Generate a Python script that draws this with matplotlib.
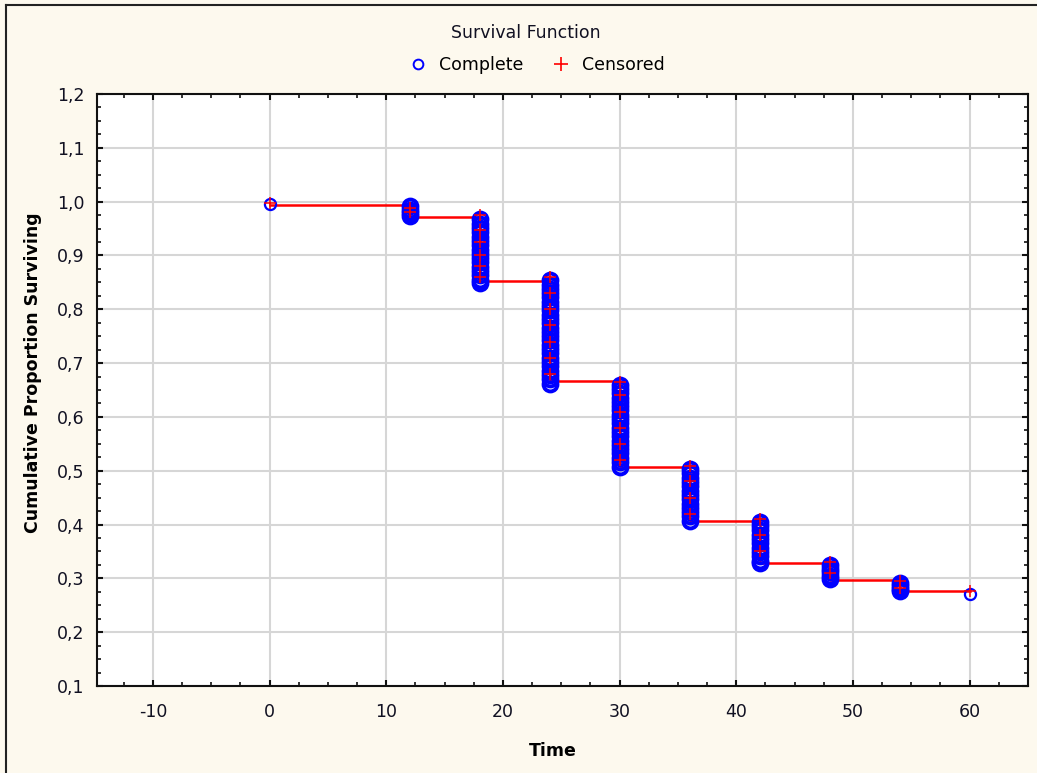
import matplotlib

matplotlib.use("Agg")
import matplotlib.pyplot as plt
from matplotlib.lines import Line2D
from matplotlib.ticker import FuncFormatter, MultipleLocator

# Kaplan-Meier step levels (proportion surviving after each time point)
step_times = [0, 12, 18, 24, 30, 36, 42, 48, 54, 60]
step_levels = [0.994, 0.972, 0.852, 0.666, 0.507, 0.407, 0.329, 0.297, 0.276, 0.276]

# per-subject cumulative proportions, complete (event) observations
complete_y = [
    [0.996],
    [0.991, 0.985, 0.979, 0.974],
    [0.967, 0.959, 0.951, 0.943, 0.935, 0.927, 0.919, 0.911, 0.903, 0.895, 0.887,
     0.879, 0.871, 0.863, 0.855, 0.849],
    [0.854, 0.846, 0.838, 0.830, 0.822, 0.814, 0.806, 0.798, 0.790, 0.782, 0.774,
     0.766, 0.758, 0.750, 0.742, 0.734, 0.726, 0.718, 0.710, 0.702, 0.694, 0.686,
     0.678, 0.670, 0.662],
    [0.660, 0.652, 0.644, 0.636, 0.628, 0.620, 0.612, 0.604, 0.596, 0.588, 0.580,
     0.572, 0.564, 0.556, 0.548, 0.540, 0.532, 0.524, 0.516, 0.507],
    [0.503, 0.495, 0.487, 0.479, 0.471, 0.463, 0.455, 0.447, 0.439, 0.431, 0.423,
     0.415, 0.407],
    [0.405, 0.397, 0.389, 0.381, 0.373, 0.365, 0.357, 0.349, 0.341, 0.333, 0.328],
    [0.325, 0.318, 0.311, 0.304, 0.298],
    [0.292, 0.286, 0.281, 0.276],
    [0.270],
]

# censored observations
censored_y = [
    [0.997],
    [0.988, 0.980],
    [0.975, 0.948, 0.925, 0.900, 0.880, 0.860],
    [0.860, 0.830, 0.800, 0.770, 0.740, 0.710, 0.680],
    [0.665, 0.640, 0.610, 0.580, 0.550, 0.520],
    [0.508, 0.480, 0.450, 0.420],
    [0.410, 0.380, 0.350],
    [0.330, 0.310],
    [0.295, 0.282],
    [0.277],
]

BLUE = "#0000ff"
RED = "#ff0000"
BG = "#fdf9ee"

plt.rcParams["font.family"] = ["DejaVu Sans"]

fig = plt.figure(figsize=(10.37, 7.73), dpi=100, facecolor=BG)
ax = fig.add_axes([0.0935, 0.1126, 0.8978, 0.7658])
ax.set_facecolor("white")

ax.step(step_times, step_levels, where="post", color=RED, linewidth=1.8, zorder=3)

for t, ys in zip(step_times, complete_y):
    dense = len(ys) > 3
    ax.plot([t] * len(ys), ys, linestyle="none", marker="o",
            markersize=10 if dense else 8, markerfacecolor="none",
            markeredgecolor=BLUE, markeredgewidth=2.8 if dense else 1.6, zorder=4)

for t, ys in zip(step_times, censored_y):
    ax.plot([t] * len(ys), ys, linestyle="none", marker="+", markersize=9,
            color=RED, markeredgewidth=1.1, zorder=5)

ax.set_xlim(-14.8, 65)
ax.set_ylim(0.1, 1.2)
ax.xaxis.set_major_locator(MultipleLocator(10))
ax.xaxis.set_minor_locator(MultipleLocator(2.5))
ax.yaxis.set_major_locator(MultipleLocator(0.1))
ax.yaxis.set_minor_locator(MultipleLocator(0.025))
ax.yaxis.set_major_formatter(FuncFormatter(lambda v, _: f"{v:.1f}".replace(".", ",")))
ax.xaxis.set_major_formatter(FuncFormatter(lambda v, _: f"{v:.0f}"))

ax.grid(True, which="major", color="#d6d6d6", linewidth=1.5, zorder=0)
ax.set_axisbelow(True)
for side in ax.spines.values():
    side.set_linewidth(1.5)
    side.set_color("#111111")

ax.tick_params(which="both", direction="in", top=True, right=True, colors="#111111")
ax.tick_params(which="major", length=4, width=1.5, labelsize=12.5, labelcolor="#111122")
ax.tick_params(which="minor", length=3, width=1.2)
ax.tick_params(axis="x", which="major", pad=12)
ax.tick_params(axis="y", which="major", pad=9)

ax.set_xlabel("Time", fontsize=12.5, fontweight="bold")
ax.set_ylabel("Cumulative Proportion Surviving", fontsize=12.5, fontweight="bold")
ax.xaxis.set_label_coords(0.49, -0.095)
ax.yaxis.set_label_coords(-0.059, 0.53)

fig.text(526 / 1037, 1 - 33 / 773, "Survival Function", ha="center", va="center",
         fontsize=12.5, color="#111122")

handles = [
    Line2D([], [], linestyle="none", marker="o", markersize=7, markerfacecolor="none",
           markeredgecolor=BLUE, markeredgewidth=1.4, label="Complete"),
    Line2D([], [], linestyle="none", marker="+", markersize=10, color=RED,
           markeredgewidth=1.2, label="Censored"),
]
fig.legend(handles=handles, loc="center", bbox_to_anchor=(536 / 1037, 1 - 65 / 773),
           ncol=2, frameon=False, fontsize=12.5, handlelength=1.2, handletextpad=0.6,
           columnspacing=1.6)

# outer frame on the left and top edges
fig.add_artist(Line2D([6 / 1037, 6 / 1037], [0, 1 - 5 / 773], transform=fig.transFigure,
                      color="#222222", linewidth=1.5))
fig.add_artist(Line2D([6 / 1037, 1], [1 - 5 / 773, 1 - 5 / 773], transform=fig.transFigure,
                      color="#222222", linewidth=1.5))

fig.savefig("out.png", dpi=100, facecolor=BG)
plt.close(fig)
